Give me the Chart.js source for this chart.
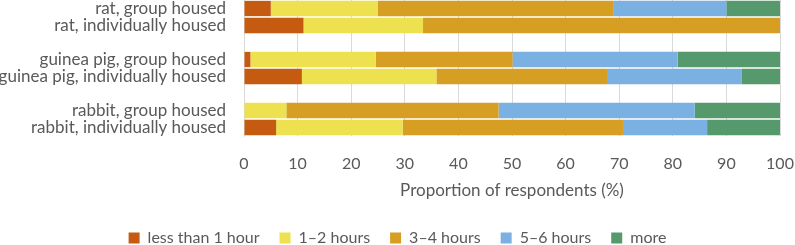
<!DOCTYPE html>
<html>
<head>
<meta charset="utf-8">
<script src="https://cdn.jsdelivr.net/npm/chart.js@4"></script>
<style>
  html, body { margin: 0; padding: 0; background: #fff; }
  #wrap { width: 795px; height: 245px; position: relative; }
</style>
</head>
<body>
<div id="wrap"><canvas id="chart"></canvas></div>
<script>
// Categories (empty strings make the gaps between animal groups)
const categories = [
  'rat, group housed', 'rat, individually housed', '',
  'guinea pig, group housed', 'guinea pig, individually housed', '',
  'rabbit, group housed', 'rabbit, individually housed'
];

// Series values (% of respondents)
const lessThan1 = [5.0, 11.1, null, 1.2, 10.8, null, 0.0, 6.0];
const hours1to2 = [20.0, 22.3, null, 23.4, 25.1, null, 7.9, 23.6];
const hours3to4 = [44.0, 66.6, null, 25.5, 32.0, null, 39.6, 41.1];
const hours5to6 = [21.0, 0.0, null, 30.8, 25.0, null, 36.6, 15.7];
const more      = [10.0, 0.0, null, 19.1, 7.1, null, 15.9, 13.6];

const seriesNames = ['less than 1 hour', '1\u20132 hours', '3\u20134 hours', '5\u20136 hours', 'more'];
const xTicks = [0, 10, 20, 30, 40, 50, 60, 70, 80, 90, 100];

const colors = ['#C55A11', '#EDE14F', '#D69E22', '#7AB0E2', '#55996C'];
const textColor = '#595959';
const family = 'Lato, "Open Sans", sans-serif';

const seriesData = [lessThan1, hours1to2, hours3to4, hours5to6, more];

new Chart(document.getElementById('chart'), {
    type: 'bar',
    data: {
        labels: categories,
        datasets: seriesData.map((d, i) => ({
            label: seriesNames[i],
            data: d,
            backgroundColor: colors[i],
            borderWidth: 0,
            categoryPercentage: 1.0,
            barPercentage: 0.9
        }))
    },
    options: {
        indexAxis: 'y',
        responsive: true,
        maintainAspectRatio: false,
        animation: false,
        layout: { padding: { top: 0, right: 0, left: 0, bottom: -11 } },
        scales: {
            x: {
                stacked: true,
                min: 0,
                max: 100,
                afterBuildTicks: (scale) => { scale.ticks = xTicks.map(v => ({ value: v })); },
                grid: { color: '#D9D9D9', drawTicks: false },
                border: { display: false },
                ticks: { color: textColor, font: { family: family, size: 16 }, padding: 18 },
                title: {
                    display: true, text: 'Proportion of respondents (%)', color: textColor,
                    font: { family: family, size: 17 }, padding: { top: 0, bottom: 9 }
                },
                afterFit: (scale) => {
                    scale.height = 74;
                    scale.paddingLeft = 0;
                    scale.paddingRight = 15;
                }
            },
            y: {
                stacked: true,
                grid: { display: false, drawTicks: false },
                border: { display: true, color: '#D9D9D9' },
                ticks: { color: textColor, font: { family: family, size: 17 }, padding: 18, autoSkip: false },
                afterFit: (scale) => {
                    scale.width = 244;
                    scale.paddingTop = 0;
                    scale.paddingBottom = 0;
                }
            }
        },
        plugins: {
            legend: {
                position: 'bottom',
                labels: {
                    color: textColor, font: { family: family, size: 16 },
                    boxWidth: 11, boxHeight: 11, padding: 20
                }
            },
            tooltip: { enabled: false }
        }
    }
});
</script>
</body>
</html>
